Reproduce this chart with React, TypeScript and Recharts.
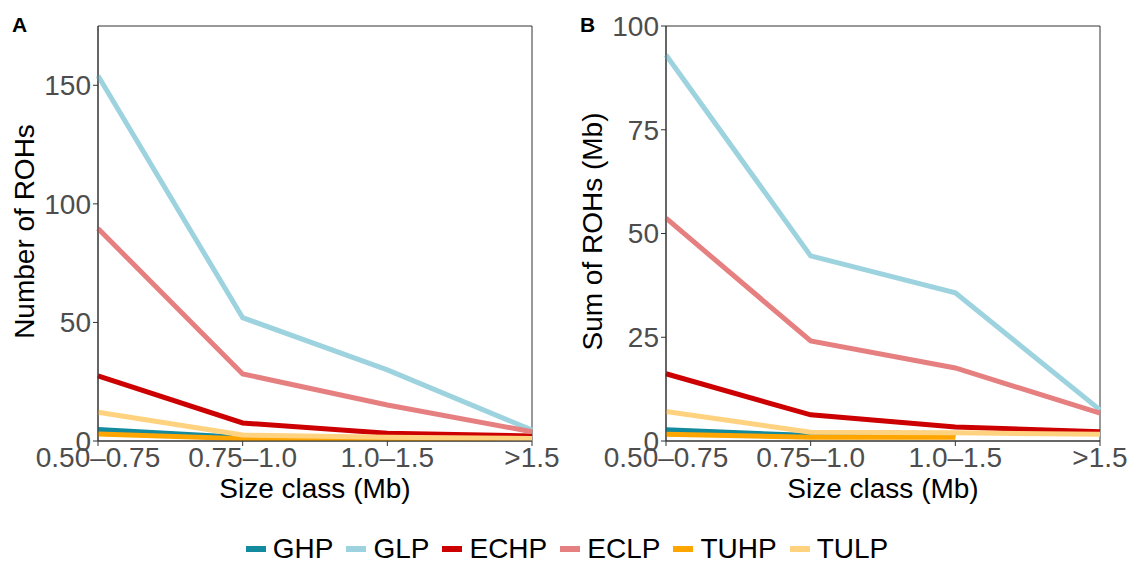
import { LineChart, Line, XAxis, YAxis, ReferenceArea, Label } from 'recharts';

// size classes on the x axis
const sizeClasses = ['0.50–0.75', '0.75–1.0', '1.0–1.5', '>1.5'];

// panel A: number of ROHs
const numGHP = [4.8, 1.5, 1, 1];
const numGLP = [154, 52, 30, 4.6];
const numECHP = [27.5, 7.6, 3.3, 2.1];
const numECLP = [89.6, 28.3, 15.2, 3.9];
const numTUHP = [2.9, 1, 1, 1];
const numTULP = [12.1, 2.5, 1.6, 1.1];

// panel B: sum of ROHs (Mb)
const sumGHP = [2.7, 1.3, 1.5, null];
const sumGLP = [93, 44.6, 35.7, 7.5];
const sumECHP = [16.2, 6.3, 3.4, 2.2];
const sumECLP = [53.7, 24.1, 17.6, 6.7];
const sumTUHP = [1.6, 0.9, 0.9, null];
const sumTULP = [7.1, 2.1, 2.0, 1.6];

const numTicks = [0, 50, 100, 150];
const sumTicks = [0, 25, 50, 75, 100];

const series = [
  { key: 'GHP', color: '#138a9d' },
  { key: 'GLP', color: '#9dd3df' },
  { key: 'ECHP', color: '#cc0000' },
  { key: 'ECLP', color: '#e67f7f' },
  { key: 'TUHP', color: '#ffa500' },
  { key: 'TULP', color: '#ffd27f' },
];

const numData = sizeClasses.map((size, i) => ({
  size,
  GHP: numGHP[i], GLP: numGLP[i], ECHP: numECHP[i],
  ECLP: numECLP[i], TUHP: numTUHP[i], TULP: numTULP[i],
}));

const sumData = sizeClasses.map((size, i) => ({
  size,
  GHP: sumGHP[i], GLP: sumGLP[i], ECHP: sumECHP[i],
  ECLP: sumECLP[i], TUHP: sumTUHP[i], TULP: sumTULP[i],
}));

const FONT = '"Liberation Sans", Arial, Helvetica, sans-serif';
const CHART_W = 568;
const CHART_H = 512;
const Y_W = 98;
const X_H = 71;
const AXIS = '#333333';

function YTitle(props: any) {
  const { viewBox, value } = props;
  const cx = viewBox.x + 33.5;
  const cy = viewBox.y + viewBox.height / 2 - 2;
  return (
    <text x={cx} y={cy} transform={`rotate(-90 ${cx} ${cy})`} textAnchor="middle"
      fontSize={28} fontFamily={FONT} fill="#000">
      {value}
    </text>
  );
}

function Panel({ data, yMax, ticks, title, letter, left }: any) {
  return (
    <div style={{ position: 'absolute', left, top: 0, width: CHART_W, height: CHART_H }}>
      <LineChart width={CHART_W} height={CHART_H} data={data}
        margin={{ top: 26, right: 36, bottom: 0, left: 0 }}>
        <XAxis dataKey="size" height={X_H} padding={{ left: 0, right: 0 }} interval={0}
          tickSize={5} tickMargin={1} stroke={AXIS}
          tick={{ fill: '#4d4d4d', fontSize: 28, fontFamily: FONT }}>
          <Label value="Size class (Mb)" position="insideBottom" offset={14}
            fill="#000" fontSize={28} fontFamily={FONT} />
        </XAxis>
        <YAxis width={Y_W} domain={[0, yMax]} ticks={ticks} allowDataOverflow
          tickSize={5} tickMargin={2} stroke={AXIS}
          tick={{ fill: '#4d4d4d', fontSize: 28, fontFamily: FONT }}>
          <Label value={title} content={YTitle} />
        </YAxis>
        <ReferenceArea x1={sizeClasses[0]} x2={sizeClasses[sizeClasses.length - 1]}
          y1={0} y2={yMax} fill="none" stroke={AXIS} strokeWidth={1} ifOverflow="visible" />
        {series.map((s) => (
          <Line key={s.key} dataKey={s.key} stroke={s.color} strokeWidth={5}
            dot={false} activeDot={false} isAnimationActive={false} />
        ))}
      </LineChart>
      <div style={{
        position: 'absolute', left: 12, top: 14, fontSize: 21, fontWeight: 'bold',
        fontFamily: FONT, color: '#000', lineHeight: '22px',
      }}>
        {letter}
      </div>
    </div>
  );
}

export default function App() {
  return (
    <div style={{ position: 'absolute', left: 0, top: 0, width: 1134, height: 563, background: '#fff' }}>
      <Panel data={numData} yMax={175} ticks={numTicks} title="Number of ROHs" letter="A" left={0} />
      <Panel data={sumData} yMax={100} ticks={sumTicks} title="Sum of ROHs (Mb)" letter="B" left={568} />
      <div style={{
        position: 'absolute', left: 0, top: 530, width: 1134, height: 38,
        display: 'flex', alignItems: 'center', justifyContent: 'center',
        fontFamily: FONT, fontSize: 28, color: '#000',
      }}>
        {series.map((s, i) => (
          <div key={s.key} style={{ display: 'flex', alignItems: 'center', marginLeft: i === 0 ? 0 : 13 }}>
            <span style={{ display: 'inline-block', width: 20, height: 6, background: s.color, marginRight: 7 }} />
            <span style={{ lineHeight: '32px' }}>{s.key}</span>
          </div>
        ))}
      </div>
    </div>
  );
}
